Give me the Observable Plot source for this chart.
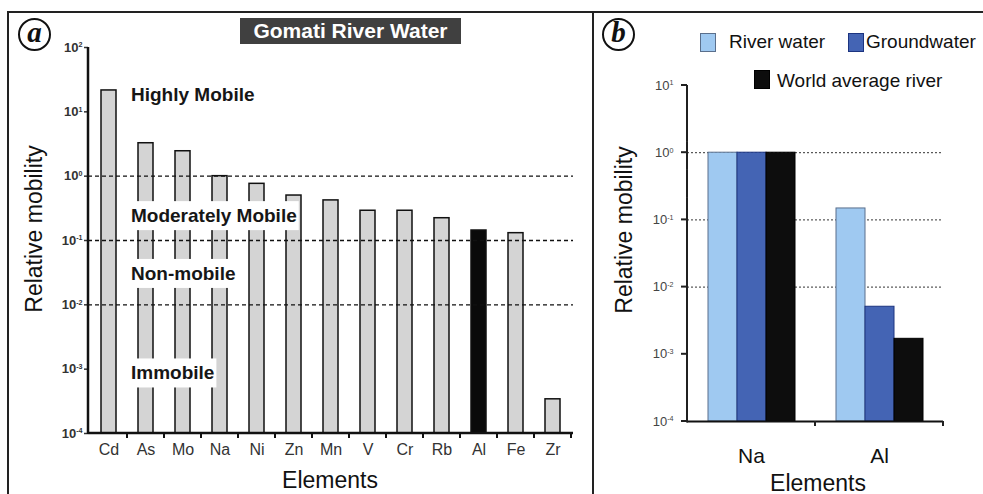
<!DOCTYPE html>
<html>
<head>
<meta charset="utf-8">
<script src="https://cdn.jsdelivr.net/npm/d3@7"></script>
<script src="https://cdn.jsdelivr.net/npm/@observablehq/plot@0.6"></script>
<style>
  html, body { margin: 0; padding: 0; background: #fff; overflow: hidden; }
  body { width: 983px; height: 494px; position: relative; font-family: "Liberation Sans", Arial, sans-serif; color: #111; }
  .abs { position: absolute; }
  #frame { left: 7px; top: 11px; width: 1000px; height: 520px; border: 2px solid #222; box-sizing: border-box; }
  #divider { left: 592px; top: 12px; width: 2px; height: 490px; background: #222; }
  .circ { width: 33px; height: 33px; border: 2px solid #111; border-radius: 50%; box-sizing: border-box;
          font-family: "Liberation Serif", "DejaVu Serif", serif; font-style: italic; font-weight: bold;
          font-size: 29px; line-height: 25px; text-align: center; }
  #title { left: 240px; top: 18px; width: 221px; height: 26px; background: #404040; color: #fff;
           font-weight: bold; font-size: 21px; line-height: 26px; text-align: center; white-space: nowrap; }
  .ytitle { font-size: 23px; white-space: nowrap; transform: translate(-50%, -50%) rotate(-90deg); line-height: 1; }
  .xtitle { font-size: 23px; white-space: nowrap; transform: translate(-50%, -50%); line-height: 1; }
  .sw { width: 16px; height: 19px; box-sizing: border-box; }
  .lt { font-size: 19px; line-height: 22px; white-space: nowrap; }
  svg { position: absolute; overflow: visible; }
</style>
</head>
<body>
<div id="frame" class="abs"></div>
<div id="divider" class="abs"></div>
<div id="chartA"></div>
<div id="chartB"></div>
<script>
// ---------- Panel (a) data ----------
const elementsA = ["Cd","As","Mo","Na","Ni","Zn","Mn","V","Cr","Rb","Al","Fe","Zr"];
const mobilityA = [21.5, 3.25, 2.44, 1.0, 0.76, 0.5, 0.42, 0.29, 0.29, 0.222, 0.143, 0.13, 0.00034];
const highlightedA = "Al";
const zoneLabels = ["Highly Mobile","Moderately Mobile","Non-mobile","Immobile"];
const zoneValues = [18.3, 0.24, 0.0303, 0.00086];
const thresholdsA = [1, 0.1, 0.01];
const yTicksA = [1e2, 1e1, 1e0, 1e-1, 1e-2, 1e-3, 1e-4];
const titleA = "Gomati River Water";

// ---------- Panel (b) data ----------
const elementsB = ["Na","Al"];
const seriesB = ["River water","Groundwater","World average river"];
const naValuesB = [1.0, 1.0, 1.0];
const alValuesB = [0.148, 0.0051, 0.0017];
const fillsB = ["#9fc9f1","#4464b4","#0d0d0d"];
const strokesB = ["#5a6f8c","#1c3480","#000000"];
const thresholdsB = [1, 0.1, 0.01];
const yTicksB = [1e1, 1e0, 1e-1, 1e-2, 1e-3, 1e-4];

const FONT = "Liberation Sans, Arial, sans-serif";
const expFmt = d => "10^" + Math.round(Math.log10(d));

function supTicks(svg) {
  d3.select(svg).selectAll("text").each(function() {
    const t = this.textContent;
    if (/^10\^/.test(t)) {
      const e = t.slice(3);
      this.textContent = "10";
      d3.select(this).append("tspan").attr("dy", "-0.6em").attr("font-size", "0.55em").text(e);
    }
  });
}

// ---------- Plot (a) ----------
const dataA = elementsA.map((el, i) => ({el, v: mobilityA[i]}));
const zonesA = zoneLabels.map((label, i) => ({label, y: zoneValues[i]}));

const plotA = Plot.plot({
  width: 590, height: 494,
  marginLeft: 88, marginRight: 17, marginTop: 47, marginBottom: 61,
  style: {fontFamily: FONT, background: "transparent", color: "#111"},
  x: {domain: elementsA, paddingInner: 0.6, paddingOuter: 0.3, label: null},
  y: {type: "log", domain: [1e-4, 1e2], label: null},
  marks: [
    Plot.barY(dataA, {x: "el", y1: 1e-4, y2: "v",
      fill: d => d.el === highlightedA ? "#0a0a0a" : "#d4d4d4", stroke: "#111", strokeWidth: 1.5}),
    Plot.ruleY(thresholdsA, {stroke: "#111", strokeWidth: 1.4, strokeDasharray: "4,3"}),
    Plot.text(zonesA, {x: () => "As", y: "y", text: "label", textAnchor: "start", dx: -15,
      fontWeight: "bold", fontSize: 19, fill: "#161616"}),
    Plot.axisY({ticks: yTicksA, tickFormat: expFmt, tickSize: 4, tickPadding: 2, fontSize: 13,
      fontWeight: "bold", color: "#333", strokeWidth: 1.5, label: null}),
    Plot.axisX({tickSize: 0, tickPadding: 10, fontSize: 16, color: "#333", label: null})
  ]
});
plotA.style.left = "0px"; plotA.style.top = "0px";
document.getElementById("chartA").appendChild(plotA);

(function decorateA() {
  const svg = plotA;
  supTicks(svg);
  svg.querySelectorAll("text").forEach(t => {
    if (zoneLabels.includes(t.textContent)) {
      const b = t.getBBox();
      const r = document.createElementNS("http://www.w3.org/2000/svg", "rect");
      r.setAttribute("x", b.x - 2); r.setAttribute("y", b.y - 4);
      r.setAttribute("width", b.width + 4); r.setAttribute("height", b.height + 8);
      r.setAttribute("fill", "#fff");
      if (t.getAttribute("transform")) r.setAttribute("transform", t.getAttribute("transform"));
      t.parentNode.insertBefore(r, t);
    }
  });
  const x = plotA.scale("x"), y = plotA.scale("y");
  const [x0, x1] = x.range, [yb, yt] = y.range;
  const g = d3.select(svg).append("g").attr("stroke", "#111").attr("fill", "none");
  g.append("line").attr("x1", x0).attr("x2", x0).attr("y1", yt).attr("y2", yb + 1).attr("stroke-width", 2.5);
  g.append("line").attr("x1", x0).attr("x2", x1).attr("y1", yb).attr("y2", yb).attr("stroke-width", 2.5);
  elementsA.forEach(d => {
    const bx = x.apply(d) + x.bandwidth / 2 + x.step / 2;
    g.append("line").attr("x1", bx).attr("x2", bx).attr("y1", yb).attr("y2", yb + 5).attr("stroke-width", 2);
  });
})();

// ---------- Plot (b) ----------
const dataB = [];
elementsB.forEach((el, j) => {
  const vals = j === 0 ? naValuesB : alValuesB;
  seriesB.forEach((s, i) => dataB.push({el, s, v: vals[i], fill: fillsB[i], stroke: strokesB[i]}));
});

const plotB = Plot.plot({
  width: 388, height: 494,
  marginLeft: 92, marginRight: 40, marginTop: 85, marginBottom: 73,
  style: {fontFamily: FONT, background: "transparent", color: "#111"},
  fx: {domain: elementsB, padding: 0, label: null, axis: null},
  x: {domain: seriesB, paddingInner: 0, paddingOuter: 0.66, axis: null},
  y: {type: "log", domain: [1e-4, 1e1], label: null},
  marks: [
    Plot.ruleY(thresholdsB, {stroke: "#333", strokeWidth: 1, strokeDasharray: "2,2"}),
    Plot.barY(dataB, {fx: "el", x: "s", y1: 1e-4, y2: "v", fill: "fill", stroke: "stroke", strokeWidth: 1}),
    Plot.ruleY([1e-4], {stroke: "#111", strokeWidth: 2}),
    Plot.axisY({ticks: yTicksB, tickFormat: expFmt, tickSize: 0, tickPadding: 14, fontSize: 13,
      color: "#444", label: null}),
    Plot.axisFx({anchor: "bottom", tickSize: 0, tickPadding: 27, fontSize: 21, color: "#111", label: null})
  ]
});
plotB.style.left = "595px"; plotB.style.top = "0px";
document.getElementById("chartB").appendChild(plotB);
supTicks(plotB);

// ---------- HTML annotations ----------
function addDiv(cls, style, text) {
  const d = document.createElement("div");
  d.className = "abs " + cls;
  Object.assign(d.style, style);
  if (text != null) d.textContent = text;
  document.body.appendChild(d);
  return d;
}
addDiv("circ", {left: "18px", top: "18px"}, "a");
addDiv("circ", {left: "602px", top: "18px"}, "b");
addDiv("", {}, titleA).id = "title";
addDiv("ytitle", {left: "34px", top: "229px"}, "Relative mobility");
addDiv("xtitle", {left: "330px", top: "480px"}, "Elements");
addDiv("ytitle", {left: "624px", top: "230px"}, "Relative mobility");
addDiv("xtitle", {left: "818px", top: "483px"}, "Elements");
const legendPos = [
  {sx: 700, sy: 33, tx: 729, ty: 31},
  {sx: 848, sy: 33, tx: 866, ty: 31},
  {sx: 754, sy: 70, tx: 777, ty: 70}
];
seriesB.forEach((s, i) => {
  const p = legendPos[i];
  addDiv("sw", {left: p.sx + "px", top: p.sy + "px", background: fillsB[i], border: "1px solid " + strokesB[i]});
  addDiv("lt", {left: p.tx + "px", top: p.ty + "px"}, s);
});

// axis line and ticks for panel (b), drawn from its scales
(function decorateB() {
  const fx = plotB.scale("fx"), y = plotB.scale("y");
  const x0 = fx.range[0], yb = y.range[0], yt = y.range[1];
  const g = d3.select(plotB).append("g").attr("stroke", "#202020").attr("fill", "none");
  // vertical axis drawn as short consecutive segments
  const segs = 12, h = (yb + 1 - yt) / segs;
  for (let i = 0; i < segs; i++) {
    g.append("line").attr("x1", x0).attr("x2", x0).attr("y1", yt + i * h).attr("y2", yt + (i + 1) * h + 0.5).attr("stroke-width", 2);
  }
  yTicksB.forEach(v => {
    const yy = y.apply(v);
    g.append("line").attr("x1", x0 - 6).attr("x2", x0).attr("y1", yy).attr("y2", yy).attr("stroke-width", 2);
  });
  elementsB.forEach(d => {
    const bx = fx.apply(d) + fx.bandwidth;
    g.append("line").attr("x1", bx).attr("x2", bx).attr("y1", yb).attr("y2", yb + 5).attr("stroke-width", 2);
  });
})();
</script>
</body>
</html>
